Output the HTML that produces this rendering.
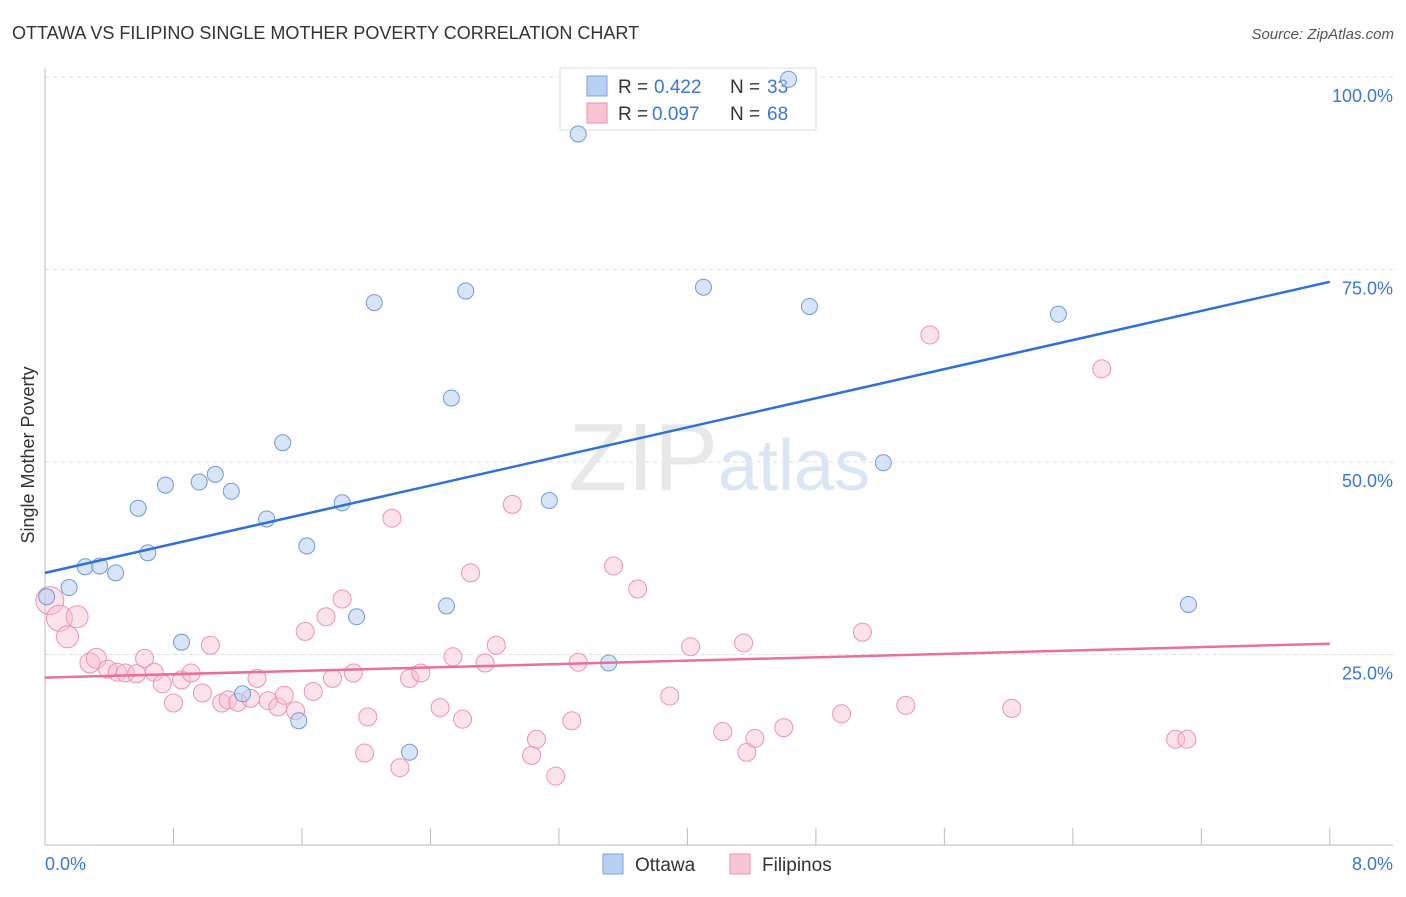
<!DOCTYPE html>
<html><head><meta charset="utf-8"><style>
body{margin:0;background:#fff;font-family:"Liberation Sans",sans-serif;}
svg text{font-family:"Liberation Sans",sans-serif;}
</style></head><body>
<svg id="chart" width="1406" height="892">
<text x="12" y="39" font-size="18" fill="#333">OTTAWA VS FILIPINO SINGLE MOTHER POVERTY CORRELATION CHART</text>
<text x="1394" y="39" font-size="15" fill="#555" font-style="italic" text-anchor="end">Source: ZipAtlas.com</text>
<text transform="translate(34,455) rotate(-90)" font-size="18" fill="#333" text-anchor="middle">Single Mother Poverty</text>
<g id="grid"></g>
<text x="718" y="490" font-size="96" fill="#e8e8e8" text-anchor="end" font-family="Liberation Serif">ZIP</text>
<text x="718" y="490" font-size="72" fill="#dbe6f5">atlas</text>
<g>
<rect x="560" y="68" width="256" height="62" fill="#fff" stroke="#ddd"/>
<rect x="587" y="76" width="20" height="20" fill="#b8d0f2" stroke="#7aa4dd"/>
<rect x="587" y="103" width="20" height="20" fill="#f9c4d4" stroke="#ea8fad"/>
<text x="618" y="93" font-size="19" fill="#333">R = </text>
<text x="654" y="93" font-size="19" fill="#3a78d4">0.422</text>
<text x="730" y="93" font-size="19" fill="#333">N = </text>
<text x="767" y="93" font-size="19" fill="#3a78d4">33</text>
<text x="618" y="120" font-size="19" fill="#333">R = </text>
<text x="652" y="120" font-size="19" fill="#3a78d4">0.097</text>
<text x="730" y="120" font-size="19" fill="#333">N = </text>
<text x="767" y="120" font-size="19" fill="#3a78d4">68</text>
</g>
<g id="pts"></g>
<g id="lines"></g>
<g>
<rect x="603" y="854" width="20" height="20" fill="#b8d0f2" stroke="#7aa4dd"/>
<text x="635" y="871" font-size="19" fill="#333">Ottawa</text>
<rect x="730" y="854" width="20" height="20" fill="#f9c4d4" stroke="#ea8fad"/>
<text x="762" y="871" font-size="19" fill="#333">Filipinos</text>
</g>
<text x="45" y="870" font-size="18" fill="#3a78d4">0.0%</text>
<text x="1393" y="870" font-size="18" fill="#3a78d4" text-anchor="end">8.0%</text>
</svg>
<script>
const yTicks=[25,50,75,100];
const xTicks=[0,0.8,1.6,2.4,3.2,4,4.8,5.6,6.4,7.2,8];
const ottawaX=[0.01,0.15,0.25,0.34,0.44,0.58,0.64,0.75,0.85,0.96,1.06,1.16,1.23,1.38,1.48,1.58,1.63,1.85,1.94,2.05,2.27,2.50,2.53,2.62,3.14,3.32,3.51,4.10,4.63,4.76,5.22,6.31,7.12];
const ottawaY=[32.5,33.7,36.4,36.5,35.6,44.0,38.2,47.0,26.6,47.4,48.4,46.2,19.9,42.6,52.5,16.4,39.1,44.7,29.9,70.7,12.3,31.3,58.3,72.2,45.0,92.6,23.9,72.7,99.7,70.2,49.9,69.2,31.5];
const filX=[0.03,0.09,0.14,0.2,0.28,0.32,0.39,0.45,0.5,0.57,0.62,0.68,0.73,0.80,0.85,0.91,0.98,1.03,1.10,1.14,1.20,1.28,1.32,1.39,1.45,1.49,1.56,1.62,1.67,1.75,1.79,1.85,1.92,2.01,1.99,2.16,2.21,2.27,2.34,2.46,2.54,2.60,2.65,2.74,2.81,2.91,3.03,3.06,3.18,3.28,3.32,3.54,3.69,3.89,4.02,4.22,4.35,4.37,4.42,4.60,4.96,5.09,5.36,5.51,6.02,6.58,7.04,7.11];
const filY=[32,29.7,27.3,29.9,23.9,24.5,23.1,22.7,22.6,22.5,24.5,22.7,21.2,18.7,21.7,22.6,20.0,26.2,18.7,19.1,18.8,19.3,21.9,19.0,18.2,19.7,17.7,28.0,20.2,29.9,21.9,32.2,22.6,16.9,12.2,42.7,10.3,21.9,22.6,18.1,24.7,16.6,35.6,23.9,26.2,44.5,11.9,14.0,9.2,16.4,24.0,36.5,33.5,19.6,26.0,15.0,26.5,12.3,14.1,15.5,17.3,27.9,18.4,66.5,18.0,62.1,14.0,14.0];
const filR=[14,13,11,11,10,10,9,9,9,9,9,9,9,9,9,9,9,9,9,9,9,9,9,9,9,9,9,9,9,9,9,9,9,9,9,9,9,9,9,9,9,9,9,9,9,9,9,9,9,9,9,9,9,9,9,9,9,9,9,9,9,9,9,9,9,9,9,9];
const blueTrend=[35.6,73.4];
const pinkTrend=[22.0,26.4];
const X=v=>45+v*160.6, Y=v=>847-v*7.7;
const NS='http://www.w3.org/2000/svg';
function mk(t,a,p){const e=document.createElementNS(NS,t);for(const k in a)e.setAttribute(k,a[k]);p.appendChild(e);return e;}
const grid=document.getElementById('grid');
yTicks.forEach(t=>{
 const l=mk('line',{x1:45,x2:1393,y1:Y(t),y2:Y(t),stroke:'#ddd','stroke-dasharray':'4,4'},grid);
 
 
 const tx=mk('text',{x:1393,y:Y(t)+25,'font-size':18,fill:'#3a78d4','text-anchor':'end'},grid);
 tx.textContent=t.toFixed(1)+'%';
 
 
});
const ax=mk('line',{x1:45,x2:1393,y1:845,y2:845,stroke:'#bbb'},grid);


const ay=mk('line',{x1:45,x2:45,y1:68,y2:845,stroke:'#bbb'},grid);


xTicks.forEach(t=>{
 const l=mk('line',{x1:X(t),x2:X(t),y1:828,y2:845,stroke:'#bbb'},grid);
 
 
});
const pts=document.getElementById('pts');
filX.forEach((v,i)=>{
 const c=mk('circle',{cx:X(v),cy:Y(filY[i]),r:filR[i],fill:'rgba(249,190,210,0.45)',stroke:'#ec94b2','stroke-width':1},pts);
 
 
});
ottawaX.forEach((v,i)=>{
 const c=mk('circle',{cx:X(v),cy:Y(ottawaY[i]),r:8,fill:'rgba(184,208,242,0.55)',stroke:'#6f9bd8','stroke-width':1},pts);
 
 
});
const lines=document.getElementById('lines');
const bl=mk('line',{x1:X(0),y1:Y(blueTrend[0]),x2:X(8),y2:Y(blueTrend[1]),stroke:'#2f72d6','stroke-width':2.5},lines);


const pl=mk('line',{x1:X(0),y1:Y(pinkTrend[0]),x2:X(8),y2:Y(pinkTrend[1]),stroke:'#e8719a','stroke-width':2.5},lines);


</script>
</body></html>
